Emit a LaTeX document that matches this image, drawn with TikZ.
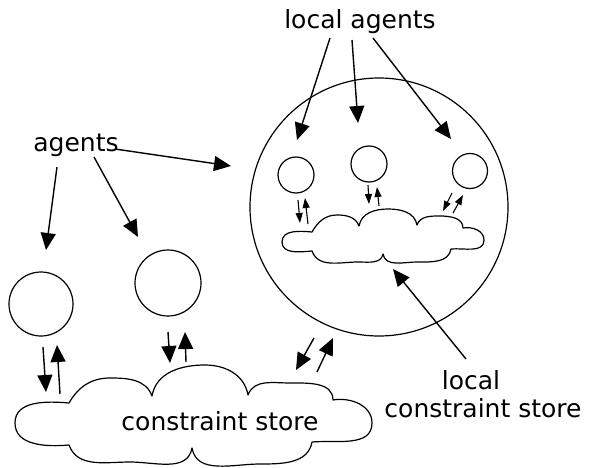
\documentclass[tikz,border=0pt]{standalone}
\usepackage{fontspec}
\setmainfont{DejaVu Sans}
\usetikzlibrary{arrows.meta}
\begin{document}
\begin{tikzpicture}[x=1pt,y=1pt,
  lbl/.style={font=\fontsize{25}{30}\selectfont, anchor=base, inner sep=0pt},
  ring/.style={draw, circle, line width=1.2pt, inner sep=0pt},
  bigarr/.style={-{Triangle[length=17pt,width=15pt]}, line width=1.4pt},
  smallarr/.style={-{Triangle[length=10pt,width=7pt]}, line width=1.1pt},
  cloudline/.style={line width=1.2pt, line join=round}]
\useasboundingbox (0,0) rectangle (589,467);

% circles
\node[ring, minimum size=258pt] (world) at (379,260) {};
\node[ring, minimum size=36pt] (la1) at (296,292) {};
\node[ring, minimum size=36pt] (la2) at (369,303) {};
\node[ring, minimum size=35pt] (la3) at (470,296) {};
\node[ring, minimum size=64pt] (ga) at (41,163) {};
\node[ring, minimum size=66pt] (gb) at (168,184) {};

% global constraint store cloud
\draw[cloudline] (69,64) to[out=60,in=180] (110,89) to[out=0,in=110] (152,71)
  to[out=80,in=180] (205,102) to[out=0,in=100] (248,72)
  to[out=70,in=180] (290,84) to[out=0,in=90] (333,67)
  to[out=10,in=90] (372,44) to[out=-90,in=5] (312,25)
  to[out=-100,in=0] (260,3) to[out=180,in=-80] (192,19)
  to[out=-100,in=0] (130,5) to[out=180,in=-70] (69,22)
  to[out=185,in=-90] (15,44) to[out=90,in=175] cycle;
\node[lbl] (store) at (220,37) {constraint store};

% local constraint store cloud
\draw[cloudline] (312,235) to[out=60,in=180] (337,252) to[out=0,in=110] (359,241)
  to[out=80,in=180] (388,258) to[out=0,in=100] (417,242)
  to[out=70,in=180] (440,251) to[out=0,in=90] (463,239)
  to[out=10,in=90] (484,227) to[out=-90,in=5] (451,218)
  to[out=-100,in=0] (417,205) to[out=180,in=-80] (383,213)
  to[out=-100,in=0] (358,205) to[out=180,in=-70] (312,216)
  to[out=185,in=-90] (282,225) to[out=90,in=175] cycle;

% labels
\node[lbl] (lagents) at (360,438) {local agents};
\node[lbl] (agents) at (76,316) {agents};
\node[lbl] (lstore1) at (471,78) {local};
\node[lbl] (lstore2) at (483,50) {constraint store};

% label arrow coordinates
\coordinate (la-s1) at (330,429); \coordinate (la-e1) at (297,327);
\coordinate (la-s2) at (352,427); \coordinate (la-e2) at (358,344);
\coordinate (la-s3) at (373,429); \coordinate (la-e3) at (451,328);
\coordinate (ag-s1) at (57,300);  \coordinate (ag-e1) at (46,217);
\coordinate (ag-s2) at (94,310);  \coordinate (ag-e2) at (138,230);
\coordinate (ag-s3) at (115,318); \coordinate (ag-e3) at (231,301);
\coordinate (ls-s) at (466,108);  \coordinate (ls-e) at (393,198);

\draw[bigarr] (la-s1) -- (la-e1);
\draw[bigarr] (la-s2) -- (la-e2);
\draw[bigarr] (la-s3) -- (la-e3);
\draw[bigarr] (ag-s1) -- (ag-e1);
\draw[bigarr] (ag-s2) -- (ag-e2);
\draw[bigarr] (ag-s3) -- (ag-e3);
\draw[bigarr] (ls-s) -- (ls-e);

% exchange arrows with global store
\coordinate (a1) at (43,120);  \coordinate (a2) at (46,75);
\coordinate (a3) at (60,73);   \coordinate (a4) at (57,122);
\coordinate (b1) at (168,135); \coordinate (b2) at (170,104);
\coordinate (b3) at (186,105); \coordinate (b4) at (185,135);
\coordinate (w1) at (314,129); \coordinate (w2) at (296,97);
\coordinate (w3) at (317,95);  \coordinate (w4) at (333,129);
\draw[bigarr] (a1) -- (a2);
\draw[bigarr] (a3) -- (a4);
\draw[bigarr] (b1) -- (b2);
\draw[bigarr] (b3) -- (b4);
\draw[bigarr] (w1) -- (w2);
\draw[bigarr] (w3) -- (w4);

% exchange arrows with local store
\coordinate (c1) at (298,267); \coordinate (c2) at (300,244);
\coordinate (c3) at (308,243); \coordinate (c4) at (305,269);
\coordinate (d1) at (368,282); \coordinate (d2) at (369,263);
\coordinate (d3) at (379,261); \coordinate (d4) at (377,280);
\coordinate (e1) at (452,274); \coordinate (e2) at (443,256);
\coordinate (e3) at (453,254); \coordinate (e4) at (463,272);
\draw[smallarr] (c1) -- (c2);
\draw[smallarr] (c3) -- (c4);
\draw[smallarr] (d1) -- (d2);
\draw[smallarr] (d3) -- (d4);
\draw[smallarr] (e1) -- (e2);
\draw[smallarr] (e3) -- (e4);
\end{tikzpicture}
\end{document}
